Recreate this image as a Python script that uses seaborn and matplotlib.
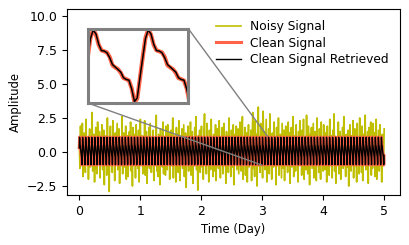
import numpy as np
import matplotlib
matplotlib.use("Agg")
import matplotlib.pyplot as plt
import seaborn as sns
from mpl_toolkits.axes_grid1.inset_locator import mark_inset

# one period of the clean signal (20 samples)
clean_period = [0.32, 0.86, 1.10, 0.95, 0.66, 0.51, 0.48, 0.45, 0.32, 0.09,
                0.03, -0.02, -0.12, -0.27, -0.30, -0.34, -0.56, -0.95, -0.85, -0.27]
retrieved_period = [0.30, 0.84, 1.08, 0.97, 0.68, 0.50, 0.49, 0.44, 0.30, 0.11,
                    0.04, -0.03, -0.10, -0.26, -0.31, -0.33, -0.58, -0.93, -0.83, -0.25]
n_periods = 100
period_days = 0.05

# noisy signal, 500 samples over 5 days
noisy = [
    0.8, -1.2, 1.9, 0.3, -0.6, 2.1, -1.8, 0.9, 1.4, -0.4, -1.5, 2.4, 0.2, -0.9, 1.1, -2.0, 0.6, 1.7, -1.1, 0.4,
    -0.7, 2.9, -1.4, 0.5, 1.3, -2.2, 0.1, 1.8, -0.8, -1.6, 2.2, 0.7, -0.3, 1.5, -1.9, 0.9, -0.5, 2.0, -1.3, 0.2,
    1.6, -2.4, 0.8, -0.2, 1.2, -1.7, 2.5, -0.6, 0.4, -2.9, 1.0, 1.9, -1.0, 0.3, -1.5, 2.3, -0.4, 0.9, -2.1, 1.4,
    -0.9, 0.6, 2.1, -1.3, -0.1, 1.7, -2.3, 0.8, 1.1, -0.7, 2.6, -1.6, 0.2, 1.4, -1.1, -0.5, 1.9, -2.0, 0.7, 1.2,
    -1.8, 0.4, 1.5, -0.9, 2.2, -1.4, 0.3, -2.5, 1.8, 0.6, -0.8, 1.3, -1.9, 2.0, -0.2, 0.9, -1.2, 1.6, -2.2, 0.5,
    2.4, -1.0, 0.1, 1.2, -1.6, 0.7, -0.4, 2.3, -1.7, 0.9, 1.5, -2.3, 0.5, -0.6, 1.8, -1.2, 2.1, 0.2, -1.5, 0.8,
    -0.3, 1.6, -2.1, 0.6, 1.0, -0.9, 2.7, -1.4, 0.3, -1.8, 1.3, 0.8, -2.4, 1.7, -0.5, 0.4, -1.1, 2.2, -1.6, 1.1,
    0.5, -1.7, 1.9, -0.2, -1.3, 2.0, -0.8, 1.4, -2.0, 0.7, 1.6, -1.0, 0.2, 2.5, -1.9, 0.6, -0.7, 1.2, -2.2, 1.8,
    -0.6, 1.3, -1.5, 2.3, 0.4, -2.1, 0.9, -0.3, 1.7, -1.2, 0.5, 2.0, -1.8, 0.1, 1.4, -2.6, 0.8, -0.9, 1.9, -1.4,
    1.0, -0.4, 2.2, -1.7, 0.6, 1.5, -2.3, 0.3, -1.0, 1.8, -0.6, 2.6, -1.3, 0.9, -2.8, 1.2, -0.2, 1.6, -1.5, 0.4,
    1.9, -1.1, 0.7, -2.0, 1.4, 2.8, -0.8, 0.2, -1.6, 2.1, -0.5, 1.0, -2.2, 1.6, -0.1, -1.3, 2.4, -0.9, 0.6, -1.8,
    1.3, 0.4, -1.4, 2.0, -2.1, 0.8, 1.7, -0.7, -1.2, 2.3, 0.1, -1.9, 1.1, -0.4, 1.8, -1.6, 0.7, 2.1, -1.0, 0.3,
    -2.3, 1.5, -0.6, 1.2, -1.5, 2.5, -0.2, 0.9, -1.8, 1.6, 0.5, -1.1, 2.0, -2.4, 0.7, 1.3, -0.8, 1.9, -1.3, 0.2,
    1.7, -1.6, 0.4, 2.2, -0.9, -1.4, 1.1, 2.6, -2.0, 0.6, -0.3, 1.8, -1.7, 0.9, 1.4, -2.2, 0.2, 2.0, -1.1, 0.8,
    -0.5, 1.6, -2.1, 1.0, 2.9, -1.2, 0.5, -1.8, 2.3, -0.7, 1.3, -2.5, 0.8, 3.3, -1.0, 0.3, -1.5, 2.1, -0.4, 1.2,
    -1.9, 3.0, -0.8, 1.5, -1.3, 0.6, 2.4, -2.2, 0.9, -0.2, 1.7, -1.6, 2.8, -0.9, 0.4, -2.0, 1.4, 0.7, -1.1, 2.2,
    -0.6, 1.1, -2.4, 1.8, 0.3, -1.0, 2.5, -1.7, 0.8, 1.3, -0.4, -1.9, 2.1, 0.5, -1.2, 1.6, -2.1, 0.9, 1.9, -0.7,
    0.2, -1.5, 2.2, -0.9, 1.4, -2.3, 0.6, 1.8, -1.1, 0.4, 2.6, -1.8, -0.3, 1.2, -1.4, 2.0, -0.6, 0.8, -2.2, 1.5,
    -1.0, 2.3, -0.2, 0.9, -1.7, 1.6, -0.8, 2.4, -2.0, 0.5, 1.1, -1.3, 2.7, -0.5, -1.6, 1.9, 0.3, -2.4, 1.3, -0.4,
    1.8, -1.2, 0.6, 2.1, -1.9, 0.2, 1.5, -0.7, -2.1, 2.5, -0.3, 1.0, -1.5, 1.7, 0.4, -2.0, 2.2, -0.9, 0.7, -1.4,
    2.0, -0.5, -1.3, 1.4, 0.8, -2.2, 1.9, -0.6, 0.3, -1.7, 2.4, -1.0, 1.2, -0.1, -1.9, 1.6, -0.8, 2.8, -1.4, 0.5,
    -2.3, 1.1, 0.4, -0.9, 2.2, -1.6, 0.7, 1.5, -2.0, 0.9, -0.4, 1.8, -1.2, 2.6, -0.7, 0.2, -1.8, 1.3, 0.6, -1.1,
    1.6, -2.5, 0.8, 2.0, -0.6, -1.4, 1.2, -0.2, 2.3, -1.9, 0.5, 1.7, -1.0, 0.1, -2.2, 2.1, -0.5, 1.0, -1.6, 2.5,
    -0.8, 0.6, -1.5, 1.9, -2.1, 1.3, 0.2, -0.9, 2.7, -1.3, 0.9, -0.4, 1.5, -2.3, 1.8, -0.6, 0.4, 2.2, -1.7, 1.0,
    -1.2, 2.1, -0.3, 1.4, -1.8, 0.7, 2.4, -2.0, 0.3, -0.7, 1.6, -1.4, 2.0, -0.5, 0.9, -2.2, 1.3, 0.5, -1.0, 1.7,
]
y_ticks = [-2.5, 0.0, 2.5, 5.0, 7.5, 10.0]

clean = np.tile(clean_period, n_periods)
retrieved = np.tile(retrieved_period, n_periods)
t_clean = np.arange(len(clean)) * period_days / len(clean_period)
t_noisy = np.linspace(0, 5, len(noisy))

plt.rcParams["font.size"] = 8.4
plt.rcParams["xtick.labelsize"] = 9
plt.rcParams["ytick.labelsize"] = 9
fig, ax = plt.subplots(figsize=(4.09, 2.45), dpi=100)
fig.subplots_adjust(left=0.164, right=0.978, bottom=0.204, top=0.963)

sns.lineplot(x=t_noisy, y=noisy, color="y", lw=1.2, label="Noisy Signal", ax=ax)
sns.lineplot(x=t_clean, y=clean, color="tomato", lw=2.2, label="Clean Signal", ax=ax)
sns.lineplot(x=t_clean, y=retrieved, color="black", lw=1, label="Clean Signal Retrieved", ax=ax)

ax.set_xlim(-0.2, 5.26)
ax.set_ylim(-3.16, 10.5)
ax.set_yticks(y_ticks)
ax.set_xlabel("Time (Day)")
ax.set_ylabel("Amplitude")
ax.legend(loc="upper right", frameon=False, fontsize=8.8, labelspacing=0.3)

# zoomed inset
axins = ax.inset_axes([0.062, 0.495, 0.302, 0.40])
sns.lineplot(x=t_clean, y=clean, color="tomato", lw=3, ax=axins, legend=False)
sns.lineplot(x=t_clean, y=retrieved, color="black", lw=1.1, ax=axins, legend=False)
axins.set_xlim(3.0, 3.0914)
axins.set_ylim(-0.97, 1.12)
axins.set_xticks([])
axins.set_yticks([])
axins.set_xlabel("")
axins.set_ylabel("")
for sp in axins.spines.values():
    sp.set_color("gray")
    sp.set_linewidth(2.2)
mark_inset(ax, axins, loc1=1, loc2=3, fc="none", ec="gray", lw=1)

fig.savefig("out.png", dpi=100)
